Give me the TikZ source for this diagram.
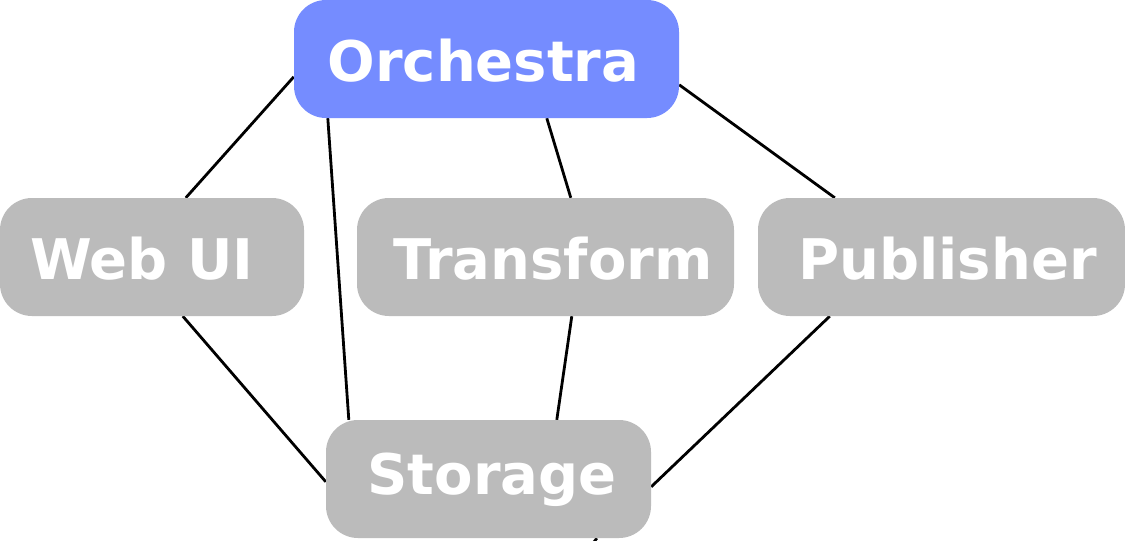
\documentclass[tikz,border=0pt]{standalone}
\usepackage{fontspec}
\setmainfont{DejaVu Sans}
\usetikzlibrary{calc,backgrounds}
\definecolor{blueN}{HTML}{758CFF}
\definecolor{grayN}{HTML}{BBBBBB}
\tikzset{
  box/.style={rectangle, rounded corners=32pt, inner sep=0pt, minimum height=118pt,
    text=white, font=\fontsize{56}{60}\selectfont\bfseries, text height=44pt, text depth=0pt},
  graybox/.style={box, fill=grayN},
  bluebox/.style={box, fill=blueN},
  conn/.style={draw=black, line width=2.8pt}
}
\begin{document}
\begin{tikzpicture}[x=1pt,y=-1pt]
\useasboundingbox (0,0) rectangle (1125,541);
\node[bluebox, minimum width=385pt] (o) at (486.5,59) {Orchestra\hspace*{6pt}};
\node[graybox, minimum width=304pt] (w) at (152,257) {Web UI\hspace*{20pt}};
\node[graybox, minimum width=377pt] (t) at (545.5,257) {\hspace*{15pt}Transform};
\node[graybox, minimum width=367pt] (p) at (941.5,257) {\hspace*{12pt}Publisher};
\node[graybox, minimum width=325pt, text height=30pt] (s) at (488.5,479) {\hspace*{7pt}Storage};
\coordinate (stubend) at (588,550);
\begin{scope}[on background layer]
\fill[white] (0,0) rectangle (1125,541);
\draw[conn] ($(o.north west)+(0,77)$) -- ($(w.north west)+(186,0)$);
\draw[conn] ($(o.south west)+(34,0)$) -- ($(s.north west)+(23,0)$);
\draw[conn] ($(o.south west)+(253,0)$) -- ($(t.north west)+(214,0)$);
\draw[conn] ($(o.north east)+(0,85)$) -- ($(p.north west)+(77,0)$);
\draw[conn] ($(w.south west)+(183,0)$) -- ($(s.north west)+(0,62)$);
\draw[conn] ($(t.south west)+(215,0)$) -- ($(s.north west)+(231,0)$);
\draw[conn] ($(p.south west)+(72,0)$) -- ($(s.north east)+(0,67)$);
\draw[conn] ($(s.south west)+(271,0)$) -- (stubend);
\end{scope}
\end{tikzpicture}
\end{document}
